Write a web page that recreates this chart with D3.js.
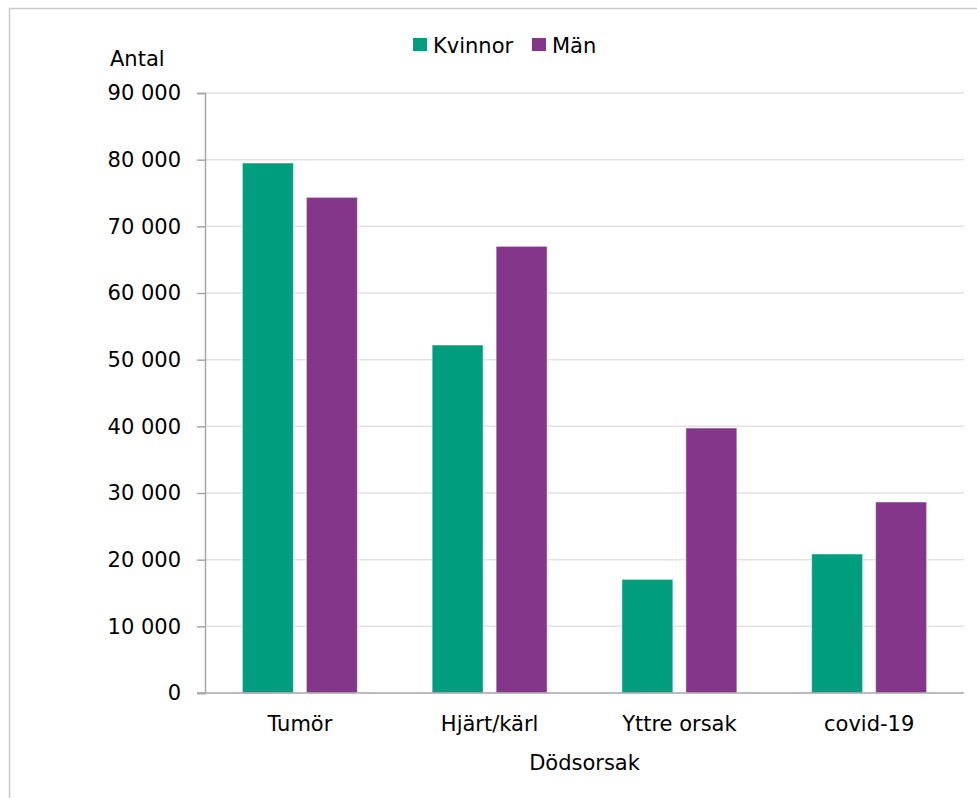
<!DOCTYPE html>
<html><head><meta charset="utf-8">
<script src="https://cdn.jsdelivr.net/npm/d3@7"></script>
<style>body{margin:0;background:#fff}</style>
</head><body>
<script>
const categories = ["Tumör", "Hjärt/kärl", "Yttre orsak", "covid-19"];
const seriesNames = ["Kvinnor", "Män"];
const kvinnor = [79500, 52200, 17050, 20850];
const man = [74350, 67000, 39750, 28650];
const yTicks = [0, 10000, 20000, 30000, 40000, 50000, 60000, 70000, 80000, 90000];
const colors = ["#009e7e", "#84378a"];

const W = 977, H = 798;
const font = "Tahoma, 'DejaVu Sans', Verdana, sans-serif";
const svg = d3.select("body").append("svg").attr("width", W).attr("height", H)
  .style("font-family", font);

// frame
svg.append("rect").attr("x", 9.5).attr("y", 8.5).attr("width", W).attr("height", H)
  .attr("fill", "#fff").attr("stroke", "#c9c9c9").attr("stroke-width", 1.5);

const L = 205, R = 964, T = 93, B = 693;
const x0 = d3.scaleBand().domain(categories).range([L, R]).paddingInner(0.394).paddingOuter(0.197);
const x1 = d3.scaleBand().domain(seriesNames).range([0, x0.bandwidth()]).paddingInner(0.203);
const y = d3.scaleLinear().domain([0, 90000]).range([B, T]);

const fmt = v => d3.format(",")(v).replace(/,/g, " ");

// gridlines
svg.append("g").selectAll("line").data(yTicks.filter(t => t > 0)).join("line")
  .attr("x1", L).attr("x2", R).attr("y1", d => y(d)).attr("y2", d => y(d))
  .attr("stroke", "#e2e2e2").attr("stroke-width", 1.5);

// y axis
const yAxis = svg.append("g").attr("transform", `translate(${L},0)`)
  .call(d3.axisLeft(y).tickValues(yTicks).tickFormat(fmt).tickSize(8).tickPadding(16));
yAxis.select(".domain").attr("stroke", "#a6a6a6").attr("stroke-width", 1.5);
yAxis.selectAll(".tick line").attr("stroke", "#a6a6a6").attr("stroke-width", 1.5);
yAxis.selectAll("text").attr("font-size", 21).attr("font-family", font).attr("fill", "#000");

// bars
const data = categories.map((c, i) => ({c, vals: [kvinnor[i], man[i]]}));
const groups = svg.append("g").selectAll("g").data(data).join("g")
  .attr("transform", d => `translate(${x0(d.c)},0)`);
groups.selectAll("rect").data(d => d.vals.map((v, j) => ({s: seriesNames[j], v, j}))).join("rect")
  .attr("x", d => x1(d.s)).attr("width", x1.bandwidth())
  .attr("y", d => y(d.v)).attr("height", d => y(0) - y(d.v))
  .attr("fill", d => colors[d.j]).attr("stroke", "#ffffff").attr("stroke-opacity", 0.5).attr("stroke-width", 1);

// x axis
const xAxis = svg.append("g").attr("transform", `translate(0,${B})`)
  .call(d3.axisBottom(x0).tickSize(0).tickPadding(23));
xAxis.select(".domain").remove();
xAxis.selectAll("text").attr("font-size", 21).attr("font-family", font).attr("fill", "#000");
svg.append("line").attr("x1", 197).attr("x2", R).attr("y1", B).attr("y2", B)
  .attr("stroke", "#a6a6a6").attr("stroke-width", 1.5);

// axis titles
svg.append("text").attr("x", 110).attr("y", 66).attr("font-size", 21).text("Antal");
svg.append("text").attr("x", (L + R) / 2).attr("y", 770).attr("text-anchor", "middle")
  .attr("font-size", 21).text("Dödsorsak");

// legend
const legX = [413, 532];
const leg = svg.append("g").selectAll("g").data(seriesNames).join("g")
  .attr("transform", (d, i) => `translate(${legX[i]},0)`);
leg.append("rect").attr("x", 0).attr("y", 38).attr("width", 14).attr("height", 13)
  .attr("fill", (d, i) => colors[i]);
leg.append("text").attr("x", 20).attr("y", 53).attr("font-size", 21).text(d => d);
</script>
</body></html>
